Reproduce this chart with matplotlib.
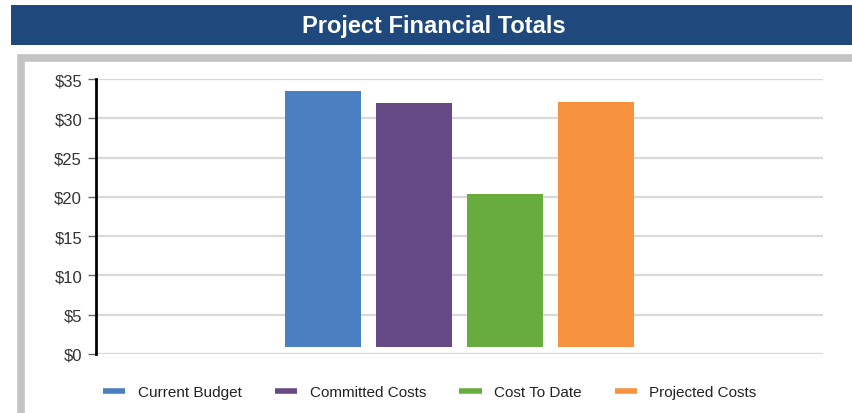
import matplotlib.pyplot as plt
from matplotlib.patches import Rectangle
from matplotlib.lines import Line2D

# =========================
# Data
# =========================

categories = ["Current Budget", "Committed Costs", "Cost To Date", "Projected Costs"]
values = [33.5, 32.0, 20.4, 32.1]
bar_base = 0.93  # bars in the source start slightly above $0
colors = ["#4a7fc1", "#654a86", "#67ac3c", "#f7923e"]
y_ticks = [0, 5, 10, 15, 20, 25, 30, 35]
y_labels = ["$0", "$5", "$10", "$15", "$20", "$25", "$30", "$35"]

plt.rcParams['font.family'] = ['Liberation Sans', 'DejaVu Sans']

W, H = 852, 414
fig = plt.figure(figsize=(W / 100, H / 100), dpi=100)

# =========================
# Banner + frame
# =========================

fig.patches.append(Rectangle((11 / W, 1 - 46 / H), (W - 11) / W, 40 / H,
                             transform=fig.transFigure, facecolor="#1f497d",
                             edgecolor="none", zorder=-2))
fig.text(434 / W, 1 - 26 / H, "Project Financial Totals", color="white",
         fontsize=17, fontweight="bold", ha="center", va="center")

fig.patches.append(Rectangle((21 / W, -0.05), (W + 10) / W, (H - 58 + 20) / H,
                             transform=fig.transFigure, facecolor="white",
                             edgecolor="#c4c4c4", linewidth=5.5, zorder=-2))

# =========================
# Chart
# =========================

ax = fig.add_axes([96 / W, 1 - 355 / H, (823 - 96) / W, 275 / H])
ax.set_facecolor("none")
ax.set_zorder(1)

x = list(range(len(categories)))
heights = [v - bar_base for v in values]
ax.bar(x, heights, bottom=bar_base, width=0.835, color=colors, zorder=3)

ax.set_xlim(-2.5, 5.5)
ax.set_ylim(0, 35)
ax.set_yticks(y_ticks)
ax.set_yticklabels(y_labels)
ax.set_xticks([])

ax.grid(axis="y", color="#d9d9d9", linewidth=1.6, zorder=0)
for s in ["top", "right", "bottom"]:
    ax.spines[s].set_visible(False)
ax.spines["left"].set_linewidth(2)
ax.spines["left"].set_color("black")
ax.spines["left"].set_zorder(4)
ax.tick_params(axis="y", length=6, width=1, color="#666666",
               labelsize=12, labelcolor="#333333", pad=4)

handles = [Line2D([0], [0], color=c, linewidth=4, solid_capstyle="butt")
           for c in colors]
fig.legend(handles, categories, loc="center", bbox_to_anchor=(430 / W, 1 - 393 / H),
           ncol=4, frameon=False, fontsize=11, handlelength=1.45,
           columnspacing=2.2, handletextpad=0.8, labelcolor="#222222")

fig.savefig("out.png", dpi=100)
